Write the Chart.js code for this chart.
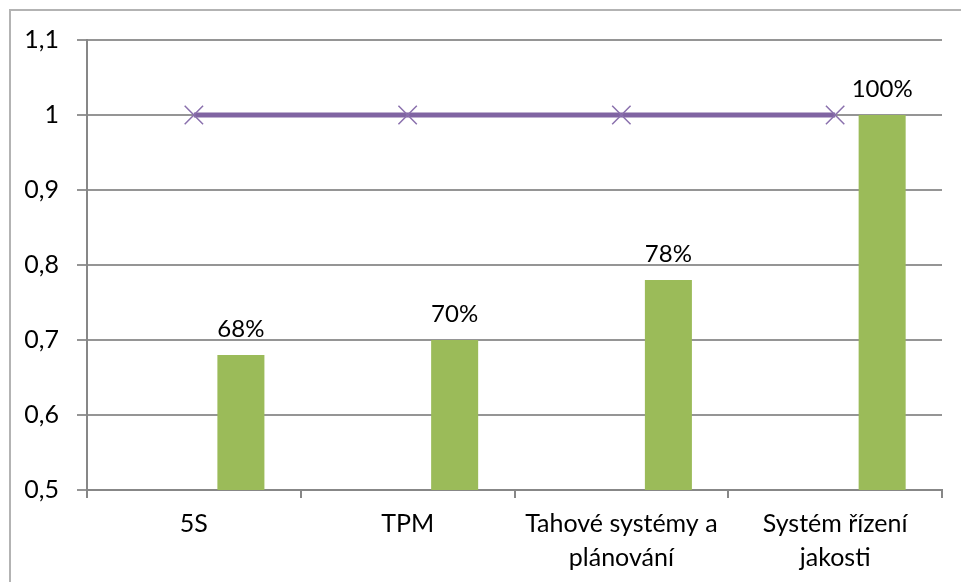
<!DOCTYPE html>
<html>
<head>
<meta charset="utf-8">
<script src="https://cdn.jsdelivr.net/npm/chart.js@4/dist/chart.umd.min.js"></script>
<style>
  html, body { margin: 0; padding: 0; background: #fff; }
  #wrap { position: relative; width: 961px; height: 582px; overflow: hidden; }
  #frame { position: absolute; left: 9px; top: 9px; width: 1000px; height: 1000px;
           border: 2px solid #b3b3b3; pointer-events: none; }
  canvas { position: absolute; left: 0; top: 0; }
</style>
</head>
<body>
<div id="wrap">
  <div id="frame"></div>
  <canvas id="chart" width="961" height="582"></canvas>
</div>
<script>
// Categories (multi-line labels are arrays of lines)
const categories = [
  '5S',
  'TPM',
  ['Tahové systémy a', 'plánování'],
  ['Systém řízení', 'jakosti']
];
// Achieved level per area
const achieved = [0.68, 0.70, 0.78, 1.00];
// Target level per area
const target = [1, 1, 1, 1];
// Empty series occupying the first two bar slots of each group
const emptyA = [null, null, null, null];
const emptyB = [null, null, null, null];
// Value axis ticks
const yTickValues = [0.5, 0.6, 0.7, 0.8, 0.9, 1.0, 1.1];
const yTickLabels = ['0,5', '0,6', '0,7', '0,8', '0,9', '1', '1,1'];

const FONT = 'Lato, "Open Sans", sans-serif';
const AXIS_GREY = '#878787';
const GRID_GREY = '#959595';

// Percent labels above the bars
const barLabels = {
  id: 'barLabels',
  afterDatasetsDraw(chart) {
    const idx = chart.data.datasets.findIndex(d => d.id === 'achieved');
    const meta = chart.getDatasetMeta(idx);
    const ctx = chart.ctx;
    ctx.save();
    ctx.font = '24px ' + FONT;
    ctx.fillStyle = '#000';
    ctx.textAlign = 'center';
    ctx.textBaseline = 'alphabetic';
    meta.data.forEach((el, i) => {
      const v = achieved[i];
      ctx.fillText(Math.round(v * 100) + '%', el.x, el.y - 18);
    });
    ctx.restore();
  }
};

new Chart(document.getElementById('chart'), {
  data: {
    labels: categories,
    datasets: [
      {
        type: 'line',
        label: 'Cíl',
        data: target,
        borderColor: '#8064A2',
        backgroundColor: '#8064A2',
        borderWidth: 5,
        pointStyle: 'crossRot',
        pointRadius: 13,
        pointBorderWidth: 1.5,
        pointBorderColor: '#8a70ad',
        pointHoverRadius: 13,
        order: 0
      },
      { type: 'bar', label: 'A', data: emptyA, backgroundColor: 'transparent', order: 1 },
      { type: 'bar', label: 'B', data: emptyB, backgroundColor: 'transparent', order: 1 },
      {
        type: 'bar',
        id: 'achieved',
        label: 'Dosaženo',
        data: achieved,
        backgroundColor: '#9BBB59',
        borderWidth: 0,
        order: 1
      }
    ]
  },
  options: {
    responsive: false,
    animation: false,
    devicePixelRatio: 1,
    events: [],
    datasets: {
      bar: { categoryPercentage: 0.66, barPercentage: 1.0 }
    },
    layout: { padding: { left: 0, top: 40, right: 19, bottom: 0 } },
    plugins: {
      legend: { display: false },
      tooltip: { enabled: false },
      title: { display: false }
    },
    scales: {
      x: {
        type: 'category',
        offset: true,
        grid: {
          offset: true,
          drawOnChartArea: false,
          drawTicks: true,
          tickLength: 8,
          color: AXIS_GREY,
          lineWidth: 2
        },
        border: { display: true, color: AXIS_GREY, width: 2 },
        ticks: {
          color: '#000',
          padding: 9,
          maxRotation: 0,
          autoSkip: false,
          font: { family: FONT, size: 25, lineHeight: '34px' }
        },
        afterFit(scale) { scale.height = 92; }
      },
      y: {
        type: 'linear',
        min: 0.5,
        max: 1.1,
        grid: {
          drawOnChartArea: true,
          drawTicks: true,
          tickLength: 10,
          color: GRID_GREY,
          lineWidth: 2
        },
        border: { display: true, color: AXIS_GREY, width: 2 },
        afterBuildTicks(scale) {
          scale.ticks = yTickValues.map(v => ({ value: v }));
        },
        ticks: {
          color: '#000',
          padding: 18,
          font: { family: FONT, size: 25 },
          callback: (v, i) => yTickLabels[i]
        },
        afterFit(scale) { scale.width = 87; }
      }
    }
  },
  plugins: [barLabels]
});
</script>
</body>
</html>
